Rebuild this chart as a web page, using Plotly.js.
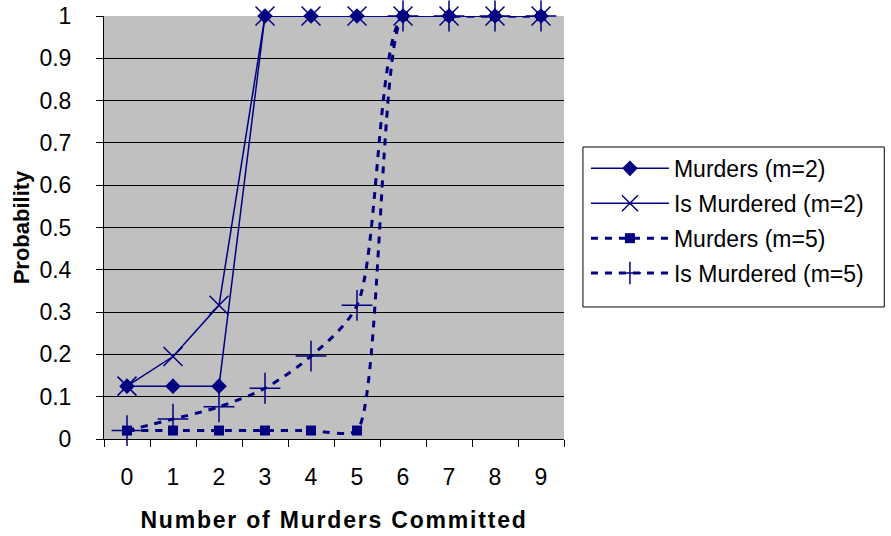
<!DOCTYPE html>
<html>
<head>
<meta charset="utf-8">
<script src="https://cdn.plot.ly/plotly-3.0.1.min.js"></script>
<style>
html,body{margin:0;padding:0;background:#fff}
#chart{width:891px;height:536px}
#chart .xtitle{letter-spacing:1.8px}
</style>
</head>
<body>
<div id="chart"></div>
<script>
var categories = ["0","1","2","3","4","5","6","7","8","9"];
var murdersM2 = [0.125, 0.125, 0.125, 1, 1, 1, 1, 1, 1, 1];
var isMurderedM2 = [0.125, 0.195, 0.316, 1, 1, 1, 1, 1, 1, 1];
var murdersM5 = [0.02, 0.02, 0.02, 0.02, 0.02, 0.02, 1, 1, 1, 1];
var isMurderedM5 = [0.02, 0.047, 0.076, 0.12, 0.196, 0.316, 1, 1, 1, 1];
var yTicks = [0,0.1,0.2,0.3,0.4,0.5,0.6,0.7,0.8,0.9,1];
var yTickText = ["0","0.1","0.2","0.3","0.4","0.5","0.6","0.7","0.8","0.9","1"];

var navy = "#000080";
var traces = [
  {x: categories, y: murdersM2, name: "Murders (m=2)", legendgroup: "a", mode: "lines+markers", cliponaxis: false,
   line: {color: navy, width: 1.5}, marker: {symbol: "diamond", size: 12, color: navy}},
  {x: categories, y: isMurderedM2, name: "Is Murdered (m=2)", legendgroup: "b", mode: "lines+markers", cliponaxis: false,
   line: {color: navy, width: 1.5}, marker: {symbol: "x-thin-open", size: 19, color: navy, line: {color: navy, width: 1.5}}},
  {x: categories, y: murdersM5, name: "Murders (m=5)", legendgroup: "c", mode: "lines+markers", cliponaxis: false,
   line: {color: navy, width: 3, dash: "7px,7px", shape: "spline", smoothing: 0.6}, marker: {symbol: "square", size: 10, color: navy}},
  {x: categories, y: isMurderedM5, name: "Is Murdered (m=5)", legendgroup: "d", mode: "lines+markers", cliponaxis: false,
   line: {color: navy, width: 3, dash: "7px,7px", shape: "spline", smoothing: 0.8}, marker: {symbol: "cross-thin-open", size: 22, color: navy, line: {color: navy, width: 1.5}}}
];

var layout = {
  width: 891, height: 536,
  margin: {l: 104, r: 327, t: 16, b: 97},
  paper_bgcolor: "#ffffff",
  plot_bgcolor: "#c0c0c0",
  font: {family: "Arial, 'Liberation Sans', sans-serif", size: 23, color: "#000"},
  showlegend: true,
  legend: {x: 1.0477, y: 0.6905, xanchor: "left", yanchor: "top", bgcolor: "rgba(0,0,0,0)", tracegroupgap: 2,
           borderwidth: 0, font: {size: 23}, itemwidth: 78},
  shapes: [{type: "rect", xref: "paper", yref: "paper", x0: 1.0412, x1: 1.6963, y0: 0.3121, y1: 0.6903,
            line: {color: "#000", width: 1}, fillcolor: "#fff", layer: "above"}],
  xaxis: {type: "category", range: [-0.5, 9.5], tickson: "boundaries", ticks: "outside", ticklen: 7,
          tickcolor: "#000", showline: true, linecolor: "#000", linewidth: 1, showgrid: false, zeroline: false,
          ticklabelstandoff: 17, tickfont: {size: 23},
          title: {text: "<b>Number of Murders Committed</b>", font: {size: 23}, standoff: 23}},
  yaxis: {range: [0, 1], tickvals: yTicks, ticktext: yTickText, ticks: "outside", ticklen: 7, tickcolor: "#000",
          showline: true, linecolor: "#000", linewidth: 1, showgrid: true, gridcolor: "#000", gridwidth: 1,
          zeroline: false, ticklabelstandoff: 20, tickfont: {size: 23},
          title: {text: "<b>Probability</b>", font: {size: 22}, standoff: 3}}
};
Plotly.newPlot("chart", traces, layout, {displayModeBar: false, staticPlot: true});
</script>
</body>
</html>
